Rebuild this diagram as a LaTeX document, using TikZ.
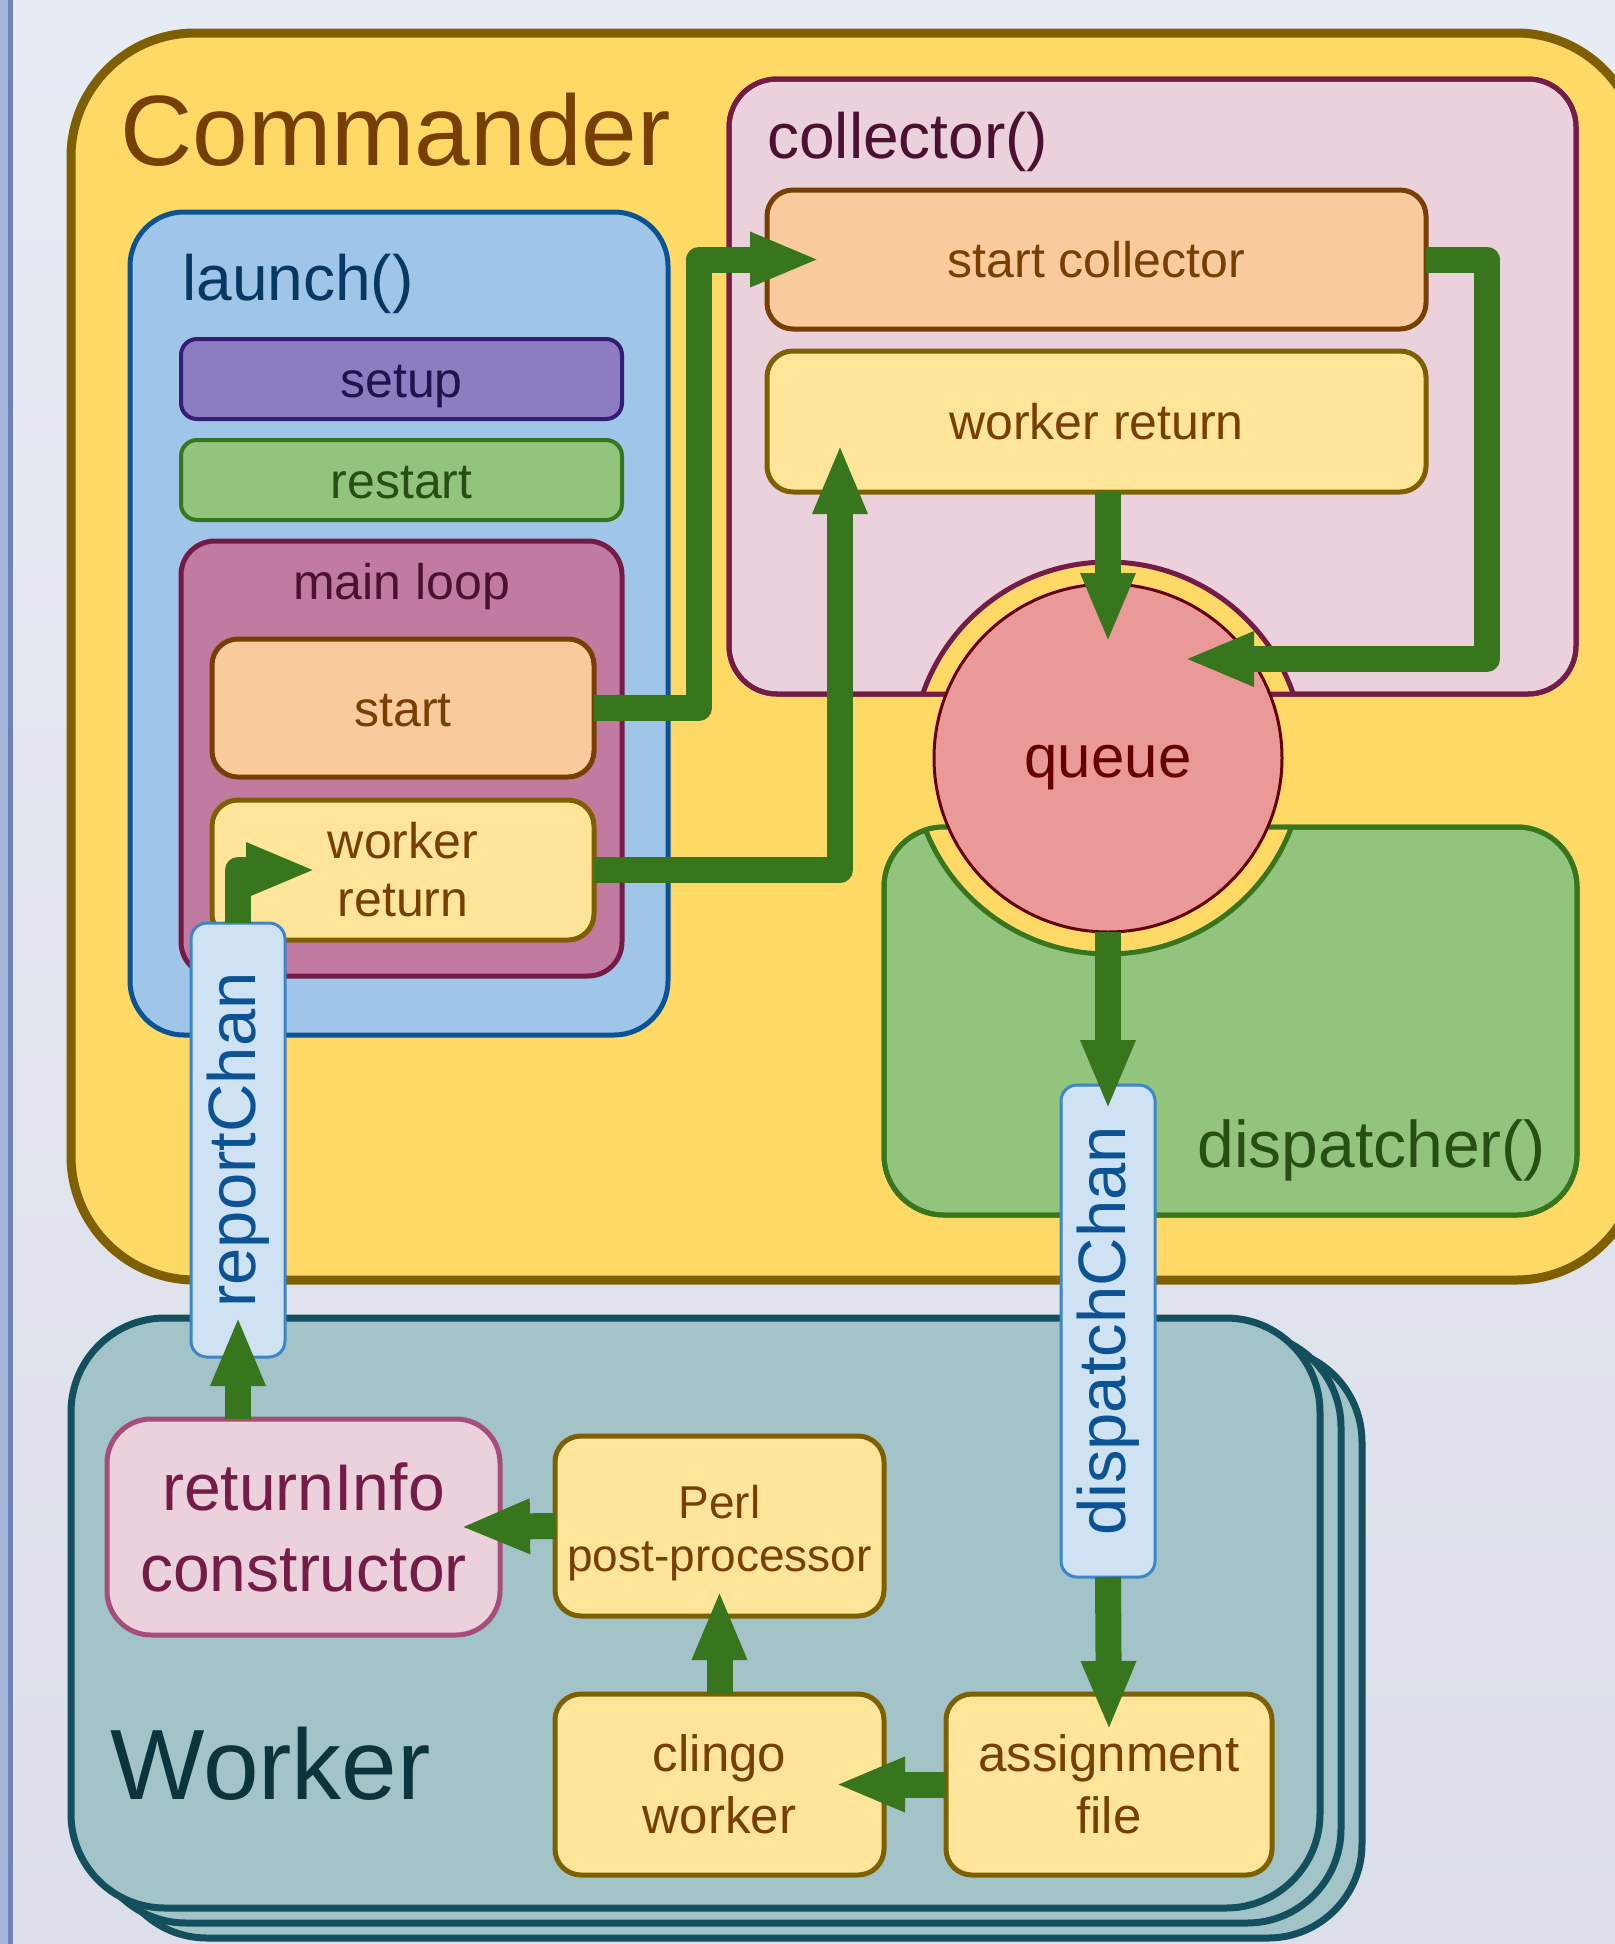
\documentclass[tikz,border=0pt]{standalone}
\usepackage{fontspec}
\usepackage{graphicx}
\setmainfont{Liberation Sans}
\usetikzlibrary{arrows.meta,calc}

\definecolor{bgtop}{HTML}{E7EBF4}
\definecolor{bgbot}{HTML}{DCDFE9}
\definecolor{stripA}{HTML}{A9B6DC}
\definecolor{stripB}{HTML}{7181B5}
\definecolor{cmdfill}{HTML}{FFD966}
\definecolor{cmdline}{HTML}{7F6000}
\definecolor{cmdtext}{HTML}{783F04}
\definecolor{launchfill}{HTML}{9FC5E8}
\definecolor{launchline}{HTML}{0B5394}
\definecolor{launchtext}{HTML}{073763}
\definecolor{setupfill}{HTML}{8E7CC3}
\definecolor{setupline}{HTML}{351C75}
\definecolor{setuptext}{HTML}{20124D}
\definecolor{restfill}{HTML}{93C47D}
\definecolor{restline}{HTML}{38761D}
\definecolor{resttext}{HTML}{274E13}
\definecolor{loopfill}{HTML}{C27BA0}
\definecolor{loopline}{HTML}{741B47}
\definecolor{looptext}{HTML}{4C1130}
\definecolor{orfill}{HTML}{F9CB9C}
\definecolor{orline}{HTML}{783F04}
\definecolor{ortext}{HTML}{783F04}
\definecolor{yefill}{HTML}{FFE599}
\definecolor{yeline}{HTML}{7F6000}
\definecolor{yetext}{HTML}{783F04}
\definecolor{collfill}{HTML}{EAD1DC}
\definecolor{collline}{HTML}{741B47}
\definecolor{colltext}{HTML}{4C1130}
\definecolor{qfill}{HTML}{EA9999}
\definecolor{qline}{HTML}{660000}
\definecolor{qtext}{HTML}{660000}
\definecolor{chanfill}{HTML}{CFE2F3}
\definecolor{chanline}{HTML}{3D85C6}
\definecolor{chantext}{HTML}{0B5394}
\definecolor{wkfill}{HTML}{A2C4C9}
\definecolor{wkline}{HTML}{134F5C}
\definecolor{wktext}{HTML}{0C343D}
\definecolor{rifill}{HTML}{EAD1DC}
\definecolor{riline}{HTML}{A64D79}
\definecolor{ritext}{HTML}{741B47}
\definecolor{flowgreen}{HTML}{38761D}

\begin{document}
\begin{tikzpicture}[x=0.5pt,y=-0.5pt,
  box/.style={draw, rectangle, inner sep=0pt, outer sep=0pt, line width=2.5pt},
  sz/.style 2 args={minimum width=#1pt, minimum height=#2pt},
  title/.style={anchor=base west, inner sep=0pt},
  mid/.style={text height=23pt, text depth=5pt},
  fA/.style={font=\fontsize{25}{29}\selectfont},
  fB/.style={font=\fontsize{25.5}{31}\selectfont},
  fC/.style={font=\fontsize{23}{26.5}\selectfont},
  fD/.style={font=\fontsize{33}{40.5}\selectfont},
  fChan/.style={font=\fontsize{33.5}{40}\selectfont},
  orangebox/.style={box, fill=orfill, draw=orline, text=ortext, rounded corners=13pt, fA, mid},
  yellowbox/.style={box, fill=yefill, draw=yeline, text=yetext, rounded corners=13pt, align=center},
  chanbox/.style={box, fill=chanfill, draw=chanline, text=chantext, line width=1.5pt, rounded corners=8pt, fChan},
  workerbox/.style={box, fill=wkfill, draw=wkline, line width=3.5pt, rounded corners=47pt, sz={624.5}{295}},
  flow/.style={draw=flowgreen, line width=13pt, line join=round, -{Triangle[length=35pt,width=25pt]}}
]
\useasboundingbox (0,0) rectangle (1615,1944);
\clip (0,0) rectangle (1615,1944);
\shade[top color=bgtop, bottom color=bgbot] (0,0) rectangle (1615,1944);
\fill[stripA] (0,0) rectangle (8,1944);
\fill[stripB] (8,0) rectangle (13,1944);

% Commander
\node[box, sz={784.5}{623.5}, fill=cmdfill, draw=cmdline, line width=4.5pt, rounded corners=62pt] (commander) at (855.5,656.5) {};
\node[title, text=cmdtext, font=\fontsize{50}{60}\selectfont] (commanderlabel) at (120,165) {Commander};

% launch()
\node[box, sz={269}{411.5}, fill=launchfill, draw=launchline, rounded corners=27pt] (launch) at (399,623.5) {};
\node[title, text=launchtext, font=\fontsize{32}{38}\selectfont] (launchlabel) at (182,300) {launch()};
\node[box, sz={220.5}{40}, fill=setupfill, draw=setupline, text=setuptext, line width=2pt, rounded corners=8pt, fA, mid] (setup) at (401.5,379) {setup};
\node[box, sz={220.5}{40}, fill=restfill, draw=restline, text=resttext, line width=2pt, rounded corners=8pt, fA, mid] (restart) at (401.5,480) {restart};
\node[box, sz={220.5}{217.5}, fill=loopfill, draw=loopline, rounded corners=17pt] (mainloop) at (401.5,758.5) {};
\node[anchor=base, inner sep=0pt, text=looptext, fA] (mainlooplabel) at (401.5,599) {main loop};
\node[orangebox, sz={191}{69}] (start) at (403,708) {start};
\node[yellowbox, sz={191}{70}, fA] (wretL) at (403,870) {worker\\return};

% collector()
\node[box, sz={423.5}{307.5}, fill=collfill, draw=collline, rounded corners=24pt] (collector) at (1152.5,386.5) {};
\node[title, text=colltext, font=\fontsize{32}{38}\selectfont] (collectorlabel) at (767,158) {collector()};
\node[orangebox, sz={329.5}{69.5}] (startc) at (1096.5,259.5) {start collector};
\node[yellowbox, sz={329.5}{70.5}, fA, mid] (wretR) at (1096.5,421.5) {worker return};

% dispatcher()
\node[box, sz={346.5}{194}, fill=restfill, draw=restline, rounded corners=30pt] (dispatcher) at (1230.5,1021) {};
\node[title, text=resttext, font=\fontsize{33}{40}\selectfont] (dispatcherlabel) at (1197,1167) {dispatcher()};

% ring around the queue
\coordinate (qc) at (1108,758);
\begin{scope}
  \clip[rounded corners=24pt] (collector.south west) rectangle (collector.north east);
  \filldraw[fill=cmdfill, draw=collline, line width=2.5pt] (qc) circle[radius=196];
\end{scope}
\draw[collline, line width=2.5pt, rounded corners=24pt] (collector.south west) rectangle (collector.north east);
\begin{scope}
  \clip[rounded corners=30pt] (dispatcher.south west) rectangle (dispatcher.north east);
  \filldraw[fill=cmdfill, draw=restline, line width=2.5pt] (qc) circle[radius=196];
\end{scope}
\draw[restline, line width=2.5pt, rounded corners=30pt] (dispatcher.south west) rectangle (dispatcher.north east);

\node[circle, draw=qline, fill=qfill, line width=1.5pt, minimum size=174pt, inner sep=0pt, outer sep=0pt, text=qtext, font=\fontsize{30}{36}\selectfont, text height=23pt, text depth=4pt] (queue) at (qc) {queue};

% Worker stack
\node[workerbox] (workercopyB) at (737.5,1643) {};
\node[workerbox] (workercopyA) at (716.5,1628) {};
\node[workerbox] (worker) at (695.5,1613) {};
\node[title, text=wktext, font=\fontsize{50}{60}\selectfont] (workerlabel) at (110,1799) {Worker};
\node[box, sz={196.5}{108}, fill=rifill, draw=riline, text=ritext, rounded corners=22pt, align=center, fD] (retinfo) at (303.5,1527) {returnInfo\\constructor};
\node[yellowbox, sz={164.5}{90}, fC] (perl) at (719.5,1526) {\rule{0pt}{23.5pt}Perl\\post-processor};
\node[yellowbox, sz={164.5}{90.5}, fB] (clingo) at (719.5,1784.5) {clingo\\worker};
\node[yellowbox, sz={163}{90.5}, fB] (assign) at (1109,1784.5) {assignment\\file};

% channels
\node[chanbox, sz={47}{217}] (rchan) at (238,1140) {\rotatebox{90}{reportChan}};
\node[chanbox, sz={47}{246}] (dchan) at (1108,1331) {\rotatebox{90}{dispatchChan}};

% connectors
\draw[flow] (start.east) -| ($(startc.west)+(-68,0)$) -- ($(startc.west)+(53,0)$);
\draw[flow] (wretL.east) -| ($(wretR.south west)+(73,-48)$);
\draw[flow] (rchan.north) |- ($(wretL.west)+(104,0)$);
\draw[flow] (wretR.south -| queue.north) -- ($(queue.north)+(0,59)$);
\draw[flow] (startc.east) -| ($(qc)+(379,-99)$) -- ($(qc)+(76,-99)$);
\draw[flow] (queue.south) -- ($(dchan.north)+(0,25)$);
\draw[flow] (dchan.south) -- ($(assign.north)+(0,37)$);
\draw[flow] (assign.west) -- ($(clingo.east)+(-49,0)$);
\draw[flow] (clingo.north) -- ($(perl.south)+(0,-26)$);
\draw[flow] (perl.west) -- ($(retinfo.east)+(-40,0)$);
\draw[flow] (retinfo.north -| rchan.south) -- ($(rchan.south)+(0,-41)$);
\end{tikzpicture}
\end{document}
